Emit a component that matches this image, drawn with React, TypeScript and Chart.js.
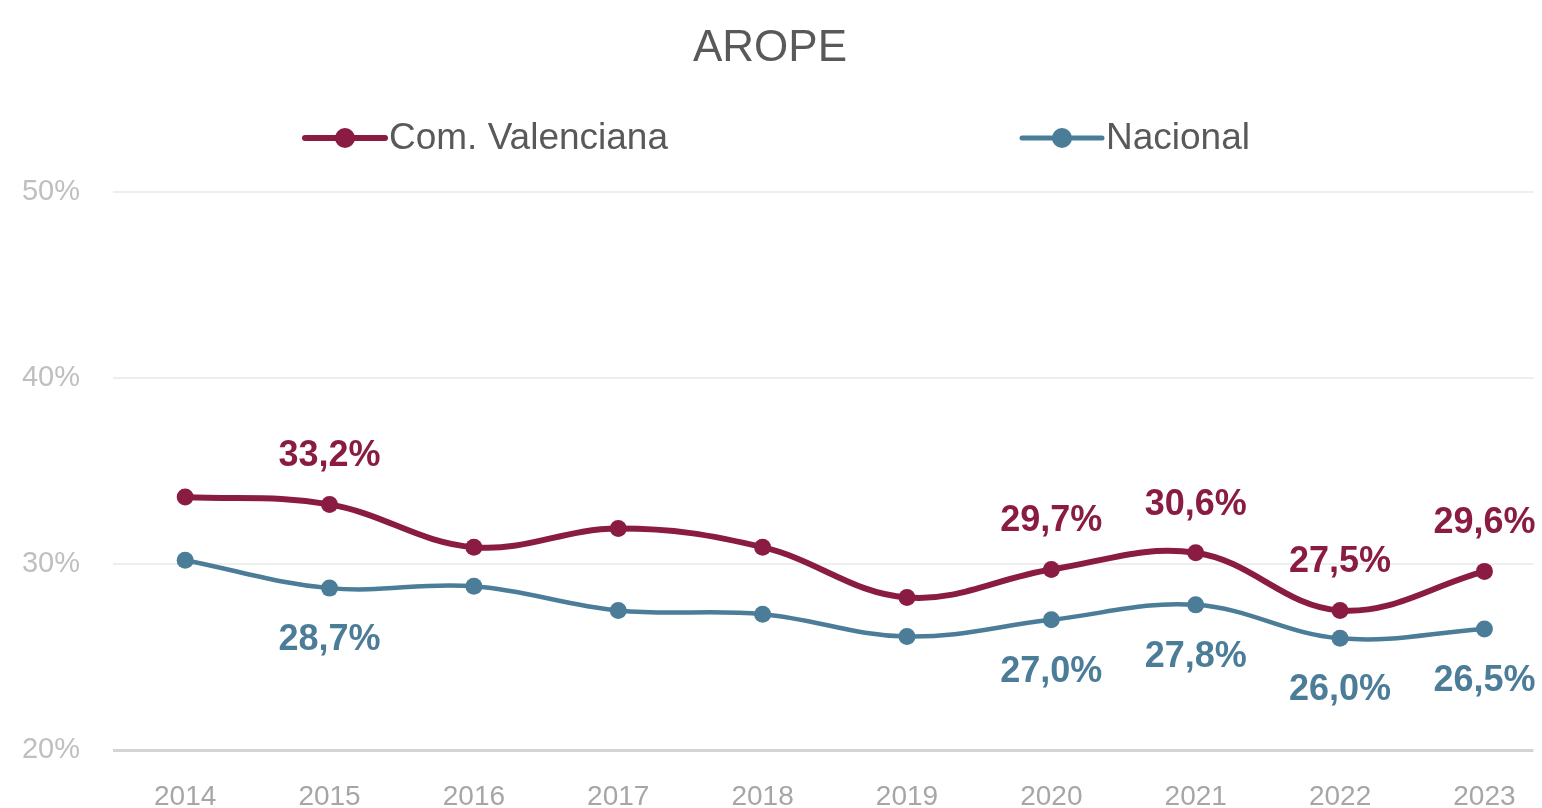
import React, { useEffect, useRef } from "react";
import { Chart, registerables } from "chart.js";

Chart.register(...registerables);

const years = [2014, 2015, 2016, 2017, 2018, 2019, 2020, 2021, 2022, 2023];
const cvValues = [33.6, 33.2, 30.9, 31.9, 30.9, 28.2, 29.7, 30.6, 27.5, 29.6];
const nacValues = [30.2, 28.7, 28.8, 27.5, 27.3, 26.1, 27.0, 27.8, 26.0, 26.5];
const cvLabelShown = [false, true, false, false, false, false, true, true, true, true];
const nacLabelShown = [false, true, false, false, false, false, true, true, true, true];
const yTicks = [20, 30, 40, 50];

const CV_COLOR = "#8A1C43";
const NAC_COLOR = "#4B7C98";
const FONT = "'Liberation Sans', Arial, sans-serif";

const fmt = (v: number) => v.toFixed(1).replace(".", ",") + "%";

const labelsPlugin = {
  id: "pointLabels",
  afterDatasetsDraw(chart: any) {
    const ctx = chart.ctx;
    ctx.save();
    ctx.font = `bold 36px ${FONT}`;
    ctx.textAlign = "center";
    ctx.textBaseline = "middle";
    chart.data.datasets.forEach((ds: any, di: number) => {
      const meta = chart.getDatasetMeta(di);
      const shown = di === 0 ? cvLabelShown : nacLabelShown;
      const dy = di === 0 ? -48 : 52;
      ctx.fillStyle = ds.borderColor;
      meta.data.forEach((pt: any, i: number) => {
        if (!shown[i]) return;
        ctx.fillText(fmt(ds.data[i].y), pt.x, pt.y + dy);
      });
    });
    ctx.restore();
  },
};

const legendPlugin = {
  id: "customLegend",
  afterDraw(chart: any) {
    const ctx = chart.ctx;
    const y = 138;
    const items = [
      { x: 305, text: "Com. Valenciana", color: CV_COLOR, lw: 6 },
      { x: 1022, text: "Nacional", color: NAC_COLOR, lw: 5 },
    ];
    ctx.save();
    items.forEach((it) => {
      ctx.strokeStyle = it.color;
      ctx.lineWidth = it.lw;
      ctx.lineCap = "round";
      ctx.beginPath();
      ctx.moveTo(it.x, y);
      ctx.lineTo(it.x + 80, y);
      ctx.stroke();
      ctx.fillStyle = it.color;
      ctx.beginPath();
      ctx.arc(it.x + 40, y, 10, 0, Math.PI * 2);
      ctx.fill();
      ctx.fillStyle = "#595959";
      ctx.font = `37px ${FONT}`;
      ctx.textAlign = "left";
      ctx.textBaseline = "middle";
      ctx.fillText(it.text, it.x + 84, y + 1);
    });
    ctx.restore();
  },
};

export default function App() {
  const ref = useRef<HTMLCanvasElement>(null);
  useEffect(() => {
    document.body.style.margin = "0";
    const canvas = ref.current!;
    const chart = new Chart(canvas, {
      type: "line",
      data: {
        datasets: [
          {
            label: "Com. Valenciana",
            data: years.map((x, i) => ({ x, y: cvValues[i] })),
            borderColor: CV_COLOR,
            backgroundColor: CV_COLOR,
            borderWidth: 6,
            pointRadius: 8.5,
            pointBorderWidth: 0,
            tension: 0.38,
          },
          {
            label: "Nacional",
            data: years.map((x, i) => ({ x, y: nacValues[i] })),
            borderColor: NAC_COLOR,
            backgroundColor: NAC_COLOR,
            borderWidth: 4.5,
            pointRadius: 8.5,
            pointBorderWidth: 0,
            tension: 0.38,
          },
        ],
      },
      options: {
        responsive: false,
        animation: false,
        layout: { padding: { left: 0, right: 2, top: 0, bottom: 0 } },
        plugins: {
          legend: { display: false },
          tooltip: { enabled: false },
          title: {
            display: true,
            text: "AROPE",
            color: "#595959",
            font: { family: FONT, size: 44, weight: "normal" },
            padding: { top: 22, bottom: 117 },
          },
        },
        scales: {
          x: {
            type: "linear",
            min: 2013.5,
            max: 2023.34,
            afterBuildTicks: (s: any) => {
              s.ticks = years.map((v) => ({ value: v }));
            },
            afterFit: (s: any) => {
              s.height = 58;
            },
            grid: { display: false },
            border: { display: false },
            ticks: {
              color: "#a6a6a6",
              padding: 22,
              font: { family: FONT, size: 28 },
              callback: (v: any) => String(v),
            },
          },
          y: {
            min: 20,
            max: 50,
            afterBuildTicks: (s: any) => {
              s.ticks = yTicks.map((v) => ({ value: v }));
            },
            afterFit: (s: any) => {
              s.width = 113;
            },
            border: { display: false },
            grid: {
              drawTicks: false,
              color: (c: any) => (c.tick && c.tick.value === 20 ? "#d4d4d4" : "#eeeeee"),
              lineWidth: (c: any) => (c.tick && c.tick.value === 20 ? 3 : 2),
            },
            ticks: {
              color: "#bfbfbf",
              padding: 33,
              font: { family: FONT, size: 29 },
              callback: (v: any) => v + "%",
            },
          },
        },
      },
      plugins: [labelsPlugin, legendPlugin],
    } as any);
    return () => chart.destroy();
  }, []);
  return (
    <div style={{ width: 1542, height: 808, background: "#fff" }}>
      <canvas ref={ref} width={1542} height={808} style={{ display: "block" }} />
    </div>
  );
}
